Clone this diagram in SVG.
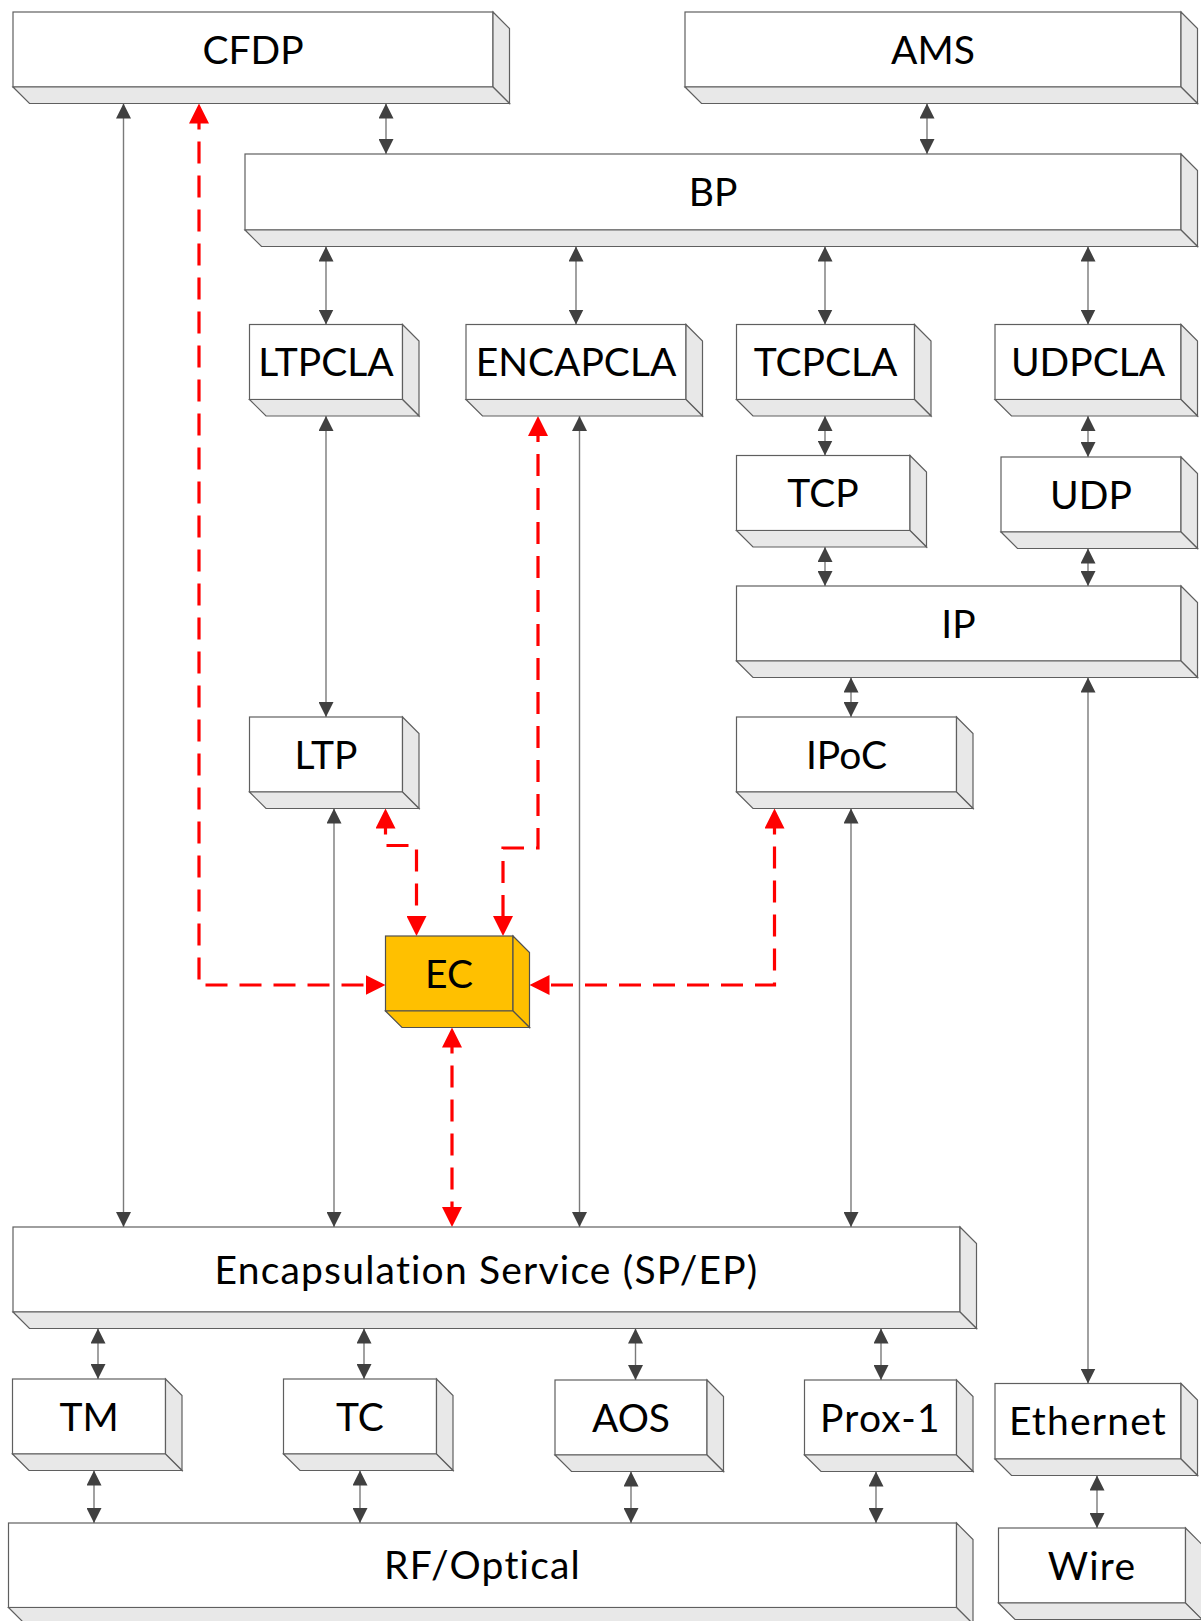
<svg xmlns="http://www.w3.org/2000/svg" width="1201" height="1621" viewBox="0 0 1201 1621">
  <style>
    .front { fill: #ffffff; stroke: #5f5f5f; stroke-width: 1.2; }
    .side { fill: #e8e8e8; stroke: #5f5f5f; stroke-width: 1.2; stroke-linejoin: miter; }
    .ec .front, .ec .side { fill: #ffc000; stroke: #505050; }
    .label { font-family: Lato, "Open Sans", "Liberation Sans", sans-serif; font-size: 39px; fill: #000000; text-anchor: middle; }
    .lc { letter-spacing: 1.2px; }
    .link { fill: none; stroke: #7a7a7a; stroke-width: 1.4; marker-start: url(#ga); marker-end: url(#ga); }
    .ctl { fill: none; stroke: #ff0000; stroke-width: 3.2; stroke-dasharray: 22 12; marker-start: url(#ra); marker-end: url(#ra); }
  </style>
  <defs>
    <marker id="ga" viewBox="0 0 15 15" refX="15" refY="7.5" markerWidth="15" markerHeight="15" markerUnits="userSpaceOnUse" orient="auto-start-reverse">
      <path d="M0,0 L15,7.5 L0,15 z" fill="#404040"/>
    </marker>
    <marker id="ra" viewBox="0 0 20 20" refX="16" refY="10" markerWidth="20" markerHeight="20" markerUnits="userSpaceOnUse" orient="auto-start-reverse">
      <path d="M0,0 L20,10 L0,20 z" fill="#ff0000"/>
    </marker>
  </defs>

  <rect width="1201" height="1621" fill="#ffffff"/>

  <!-- connectors -->
  <g id="connectors">
    <path class="link" d="M123.5,103.5 V1227"/>
    <path class="link" d="M386,103.5 V154"/>
    <path class="link" d="M927,103.5 V154"/>
    <path class="link" d="M326,246.5 V324.5"/>
    <path class="link" d="M576,246.5 V324.5"/>
    <path class="link" d="M825,246.5 V324.5"/>
    <path class="link" d="M1088,246.5 V324.5"/>
    <path class="link" d="M326,416 V717"/>
    <path class="link" d="M579.5,416 V1227"/>
    <path class="link" d="M825,416 V455.5"/>
    <path class="link" d="M1088,416 V457"/>
    <path class="link" d="M825,547 V586"/>
    <path class="link" d="M1088,548.5 V586"/>
    <path class="link" d="M851,677.5 V717"/>
    <path class="link" d="M1088,677.5 V1383.5"/>
    <path class="link" d="M334,808.5 V1227"/>
    <path class="link" d="M851,808.5 V1227"/>
    <path class="link" d="M98,1328.5 V1379"/>
    <path class="link" d="M364,1328.5 V1379"/>
    <path class="link" d="M635.5,1328.5 V1380"/>
    <path class="link" d="M881,1328.5 V1380"/>
    <path class="link" d="M94,1470.5 V1523"/>
    <path class="link" d="M360,1470.5 V1523"/>
    <path class="link" d="M631,1471.5 V1523"/>
    <path class="link" d="M876,1471.5 V1523"/>
    <path class="link" d="M1097,1475.5 V1528"/>
    <!-- EC control paths -->
    <path class="ctl" d="M199,107.5 V985 H381.5"/>
    <path class="ctl" d="M538,420 V848 H503 V932"/>
    <path class="ctl" d="M385.5,812.5 V845.5 H416.5 V932"/>
    <path class="ctl" d="M774.5,812.5 V985 H533.5"/>
    <path class="ctl" d="M452,1031.5 V1223"/>
  </g>

  <g id="cfdp">
    <rect class="front" x="13" y="12" width="480" height="75"/>
    <polygon class="side" points="493,12 509.5,28.5 509.5,103.5 493,87"/>
    <polygon class="side" points="13,87 493,87 509.5,103.5 29.5,103.5"/>
    <text class="label" x="253" y="63.5">CFDP</text>
  </g>
  <g id="ams">
    <rect class="front" x="685" y="12" width="496" height="75"/>
    <polygon class="side" points="1181,12 1197.5,28.5 1197.5,103.5 1181,87"/>
    <polygon class="side" points="685,87 1181,87 1197.5,103.5 701.5,103.5"/>
    <text class="label" x="933" y="63.5">AMS</text>
  </g>
  <g id="bp">
    <rect class="front" x="245" y="154" width="936" height="76"/>
    <polygon class="side" points="1181,154 1197.5,170.5 1197.5,246.5 1181,230"/>
    <polygon class="side" points="245,230 1181,230 1197.5,246.5 261.5,246.5"/>
    <text class="label" x="713" y="206">BP</text>
  </g>
  <g id="ltpcla">
    <rect class="front" x="249.5" y="324.5" width="153" height="75"/>
    <polygon class="side" points="402.5,324.5 419,341 419,416 402.5,399.5"/>
    <polygon class="side" points="249.5,399.5 402.5,399.5 419,416 266,416"/>
    <text class="label" x="326" y="376">LTPCLA</text>
  </g>
  <g id="encapcla">
    <rect class="front" x="466" y="324.5" width="220" height="75"/>
    <polygon class="side" points="686,324.5 702.5,341 702.5,416 686,399.5"/>
    <polygon class="side" points="466,399.5 686,399.5 702.5,416 482.5,416"/>
    <text class="label" x="576" y="376">ENCAPCLA</text>
  </g>
  <g id="tcpcla">
    <rect class="front" x="736.5" y="324.5" width="178" height="75"/>
    <polygon class="side" points="914.5,324.5 931,341 931,416 914.5,399.5"/>
    <polygon class="side" points="736.5,399.5 914.5,399.5 931,416 753,416"/>
    <text class="label" x="825.5" y="376">TCPCLA</text>
  </g>
  <g id="udpcla">
    <rect class="front" x="995" y="324.5" width="186" height="75"/>
    <polygon class="side" points="1181,324.5 1197.5,341 1197.5,416 1181,399.5"/>
    <polygon class="side" points="995,399.5 1181,399.5 1197.5,416 1011.5,416"/>
    <text class="label" x="1088" y="376">UDPCLA</text>
  </g>
  <g id="tcp">
    <rect class="front" x="736.5" y="455.5" width="173.5" height="75"/>
    <polygon class="side" points="910,455.5 926.5,472 926.5,547 910,530.5"/>
    <polygon class="side" points="736.5,530.5 910,530.5 926.5,547 753,547"/>
    <text class="label" x="823" y="507">TCP</text>
  </g>
  <g id="udp">
    <rect class="front" x="1001" y="457" width="180" height="75"/>
    <polygon class="side" points="1181,457 1197.5,473.5 1197.5,548.5 1181,532"/>
    <polygon class="side" points="1001,532 1181,532 1197.5,548.5 1017.5,548.5"/>
    <text class="label" x="1091" y="508.5">UDP</text>
  </g>
  <g id="ip">
    <rect class="front" x="736.5" y="586" width="444.5" height="75"/>
    <polygon class="side" points="1181,586 1197.5,602.5 1197.5,677.5 1181,661"/>
    <polygon class="side" points="736.5,661 1181,661 1197.5,677.5 753,677.5"/>
    <text class="label" x="958.5" y="637.5">IP</text>
  </g>
  <g id="ltp">
    <rect class="front" x="249.5" y="717" width="153" height="75"/>
    <polygon class="side" points="402.5,717 419,733.5 419,808.5 402.5,792"/>
    <polygon class="side" points="249.5,792 402.5,792 419,808.5 266,808.5"/>
    <text class="label" x="326" y="768.5">LTP</text>
  </g>
  <g id="ipoc">
    <rect class="front" x="736.5" y="717" width="220" height="75"/>
    <polygon class="side" points="956.5,717 973,733.5 973,808.5 956.5,792"/>
    <polygon class="side" points="736.5,792 956.5,792 973,808.5 753,808.5"/>
    <text class="label" x="846.5" y="768.5">IPoC</text>
  </g>
  <g id="ec" class="ec">
    <rect class="front" x="385.5" y="936" width="127.5" height="75"/>
    <polygon class="side" points="513,936 529.5,952.5 529.5,1027.5 513,1011"/>
    <polygon class="side" points="385.5,1011 513,1011 529.5,1027.5 402,1027.5"/>
    <text class="label" x="449" y="987.5">EC</text>
  </g>
  <g id="encapsulation-service">
    <rect class="front" x="13" y="1227" width="947" height="85"/>
    <polygon class="side" points="960,1227 976.5,1243.5 976.5,1328.5 960,1312"/>
    <polygon class="side" points="13,1312 960,1312 976.5,1328.5 29.5,1328.5"/>
    <text class="label lc" x="486.5" y="1283.5">Encapsulation Service (SP/EP)</text>
  </g>
  <g id="tm">
    <rect class="front" x="12.5" y="1379" width="153" height="75"/>
    <polygon class="side" points="165.5,1379 182,1395.5 182,1470.5 165.5,1454"/>
    <polygon class="side" points="12.5,1454 165.5,1454 182,1470.5 29,1470.5"/>
    <text class="label" x="89" y="1430.5">TM</text>
  </g>
  <g id="tc">
    <rect class="front" x="283.5" y="1379" width="153" height="75"/>
    <polygon class="side" points="436.5,1379 453,1395.5 453,1470.5 436.5,1454"/>
    <polygon class="side" points="283.5,1454 436.5,1454 453,1470.5 300,1470.5"/>
    <text class="label" x="360" y="1430.5">TC</text>
  </g>
  <g id="aos">
    <rect class="front" x="555" y="1380" width="152" height="75"/>
    <polygon class="side" points="707,1380 723.5,1396.5 723.5,1471.5 707,1455"/>
    <polygon class="side" points="555,1455 707,1455 723.5,1471.5 571.5,1471.5"/>
    <text class="label" x="631" y="1431.5">AOS</text>
  </g>
  <g id="prox-1">
    <rect class="front" x="804.5" y="1380" width="152" height="75"/>
    <polygon class="side" points="956.5,1380 973,1396.5 973,1471.5 956.5,1455"/>
    <polygon class="side" points="804.5,1455 956.5,1455 973,1471.5 821,1471.5"/>
    <text class="label lc" x="880.5" y="1431.5">Prox-1</text>
  </g>
  <g id="ethernet">
    <rect class="front" x="995" y="1383.5" width="186" height="75.5"/>
    <polygon class="side" points="1181,1383.5 1197.5,1400 1197.5,1475.5 1181,1459"/>
    <polygon class="side" points="995,1459 1181,1459 1197.5,1475.5 1011.5,1475.5"/>
    <text class="label lc" x="1088" y="1435">Ethernet</text>
  </g>
  <g id="wire">
    <rect class="front" x="998.5" y="1528" width="187" height="75"/>
    <polygon class="side" points="1185.5,1528 1202,1544.5 1202,1619.5 1185.5,1603"/>
    <polygon class="side" points="998.5,1603 1185.5,1603 1202,1619.5 1015,1619.5"/>
    <text class="label lc" x="1092" y="1579.5">Wire</text>
  </g>
  <g id="rf-optical">
    <rect class="front" x="8.5" y="1523" width="948" height="84.5"/>
    <polygon class="side" points="956.5,1523 973,1539.5 973,1624 956.5,1607.5"/>
    <polygon class="side" points="8.5,1607.5 956.5,1607.5 973,1624 25,1624"/>
    <text class="label lc" x="482.5" y="1579">RF/Optical</text>
  </g>
</svg>
